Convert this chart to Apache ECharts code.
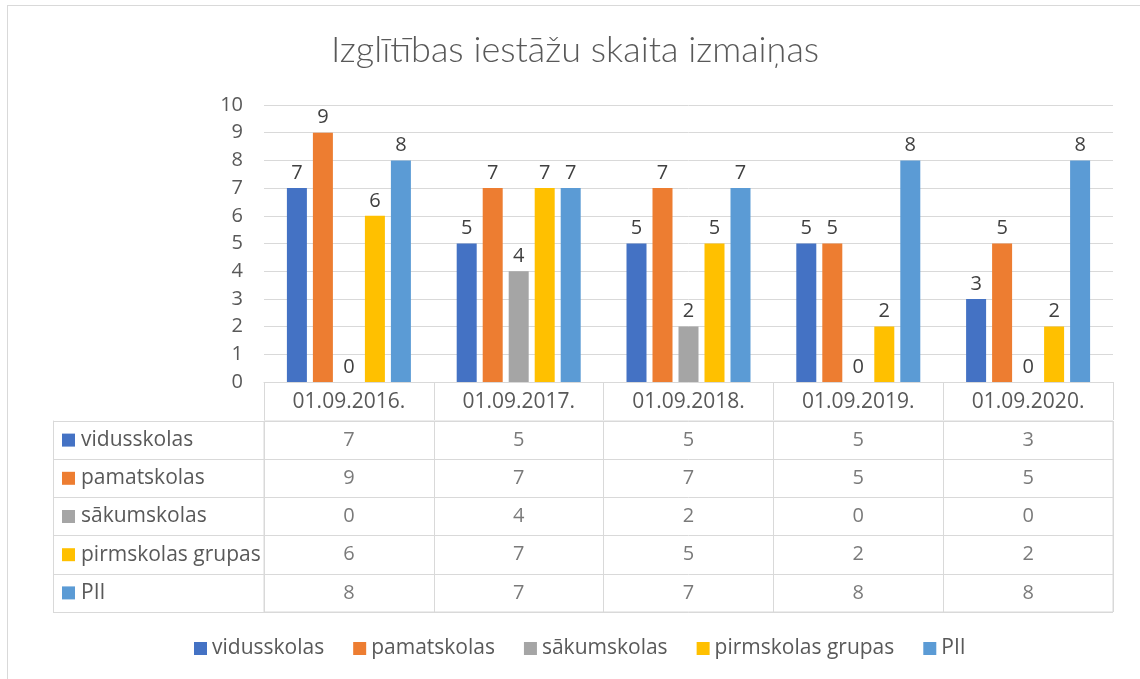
<!DOCTYPE html>
<html>
<head>
<meta charset="utf-8">
<script src="https://cdn.jsdelivr.net/npm/echarts@6/dist/echarts.min.js"></script>
<style>
html,body{margin:0;padding:0;background:#fff;}
#frame{position:absolute;left:7px;top:5px;width:1140px;height:680px;border-left:1px solid #d9d9d9;border-top:1px solid #d9d9d9;}
#chart{position:absolute;left:0;top:0;width:1140px;height:679px;}
</style>
</head>
<body>
<div id="frame"></div>
<div id="chart"></div>
<script>
const titleText = 'Izglītības iestāžu skaita izmaiņas';
const categories = ['01.09.2016.', '01.09.2017.', '01.09.2018.', '01.09.2019.', '01.09.2020.'];
const seriesNames = ['vidusskolas', 'pamatskolas', 'sākumskolas', 'pirmskolas grupas', 'PII'];
const vidusskolas = [7, 5, 5, 5, 3];
const pamatskolas = [9, 7, 7, 5, 5];
const sakumskolas = [0, 4, 2, 0, 0];
const pirmskolasGrupas = [6, 7, 5, 2, 2];
const PII = [8, 7, 7, 8, 8];
const yTicks = [0, 1, 2, 3, 4, 5, 6, 7, 8, 9, 10];
const colors = ['#4472C4', '#ED7D31', '#A5A5A5', '#FFC000', '#5B9BD5'];

const seriesValues = [vidusskolas, pamatskolas, sakumskolas, pirmskolasGrupas, PII];
const FONT = '"Open Sans", Lato, sans-serif';
const TFONT = 'Lato, "Open Sans", sans-serif';
const TXT = '#595959';
const LINE = '#d9d9d9';

const rich = { t: { fontSize: 21, color: TXT, fontFamily: FONT, padding: [0, 0, 0, 6] } };
colors.forEach((c, i) => { rich['s' + i] = { width: 13, height: 13, backgroundColor: c }; });

const tableData = [];
seriesValues.forEach((vals, i) => vals.forEach((v, j) => tableData.push([j, i, v])));

const barSeries = seriesNames.map((name, i) => ({
  name: name,
  type: 'bar',
  xAxisIndex: 0,
  yAxisIndex: 0,
  data: seriesValues[i],
  barWidth: 20,
  barGap: '30%',
  itemStyle: { color: colors[i] },
  label: { show: true, position: 'top', distance: 5, fontSize: 20, color: '#404040', fontFamily: FONT },
  emphasis: { disabled: true }
}));

const chart = echarts.init(document.getElementById('chart'), null, { renderer: 'canvas' });
chart.setOption({
  animation: false,
  backgroundColor: 'transparent',
  textStyle: { fontFamily: FONT },
  title: {
    text: titleText,
    left: 570,
    textAlign: 'center',
    top: 27,
    textStyle: { fontSize: 36, fontWeight: 300, color: TXT, fontFamily: TFONT }
  },
  legend: {
    data: seriesNames,
    left: 194,
    top: 638,
    padding: 0,
    icon: 'rect',
    itemWidth: 13,
    itemHeight: 13,
    itemGap: 29,
    textStyle: { fontSize: 21, color: TXT, fontFamily: FONT }
  },
  grid: [
    { left: 264, right: 27, top: 105, height: 277 },
    { left: 264, right: 27, top: 421, height: 191, show: true, borderColor: LINE, borderWidth: 1 }
  ],
  xAxis: [
    {
      gridIndex: 0, type: 'category', data: categories,
      axisLine: { show: true, lineStyle: { color: LINE, width: 1 } },
      axisTick: { show: true, length: 38, interval: 0, lineStyle: { color: LINE } },
      axisLabel: { fontSize: 21, color: TXT, margin: 10, interval: 0, fontFamily: FONT }
    },
    {
      gridIndex: 1, type: 'category', data: categories,
      axisLine: { show: false }, axisTick: { show: false }, axisLabel: { show: false },
      splitLine: { show: true, interval: 0, lineStyle: { color: LINE } }
    }
  ],
  yAxis: [
    {
      gridIndex: 0, type: 'value', min: 0, max: 10, interval: 1,
      axisLine: { show: false }, axisTick: { show: false },
      splitLine: { lineStyle: { color: LINE } },
      axisLabel: { fontSize: 20, color: TXT, margin: 21, fontFamily: FONT,
        formatter: v => yTicks.includes(v) ? String(v) : '' }
    },
    {
      gridIndex: 1, type: 'category', data: seriesNames, inverse: true,
      axisLine: { show: true, lineStyle: { color: LINE } },
      axisTick: { show: true, length: 211, interval: 0, lineStyle: { color: LINE } },
      splitLine: { show: true, interval: 0, lineStyle: { color: LINE } },
      axisLabel: { align: 'left', margin: 202, interval: 0,
        formatter: (name, idx) => '{s' + idx + '|}{t|' + name + '}', rich: rich }
    },
    {
      gridIndex: 1, type: 'category', data: seriesNames, inverse: true, position: 'left', offset: 211,
      axisLine: { show: true, lineStyle: { color: LINE } },
      axisTick: { show: false }, axisLabel: { show: false }, splitLine: { show: false }
    }
  ],
  series: barSeries.concat([{
    name: 'table',
    type: 'scatter',
    xAxisIndex: 1,
    yAxisIndex: 1,
    data: tableData,
    symbolSize: 1,
    itemStyle: { color: 'rgba(0,0,0,0)' },
    silent: true,
    label: { show: true, position: 'inside', formatter: p => String(p.value[2]),
      fontSize: 20, color: TXT, fontFamily: FONT }
  }])
});
</script>
</body>
</html>
